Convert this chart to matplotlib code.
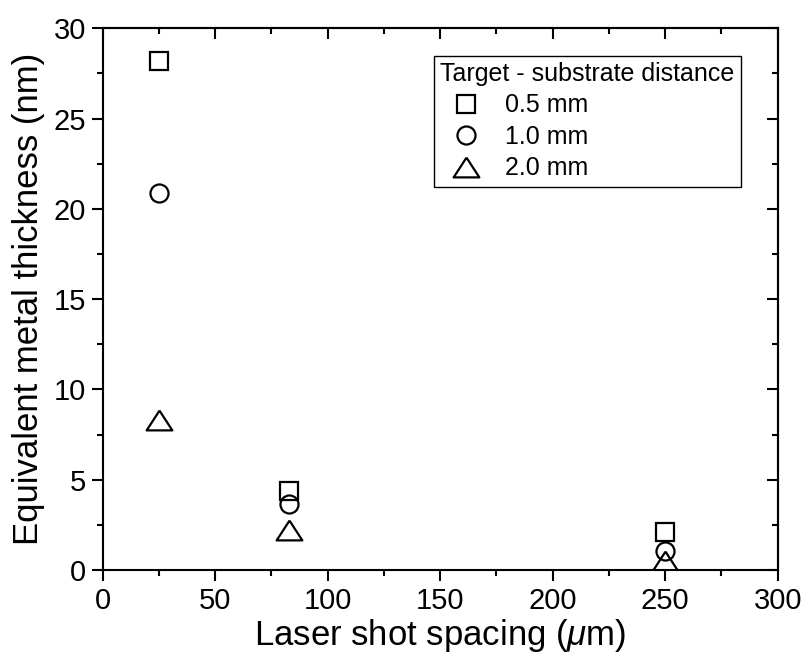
import matplotlib
matplotlib.use('Agg')
import matplotlib.pyplot as plt
from matplotlib.ticker import MultipleLocator

plt.rcParams['font.family'] = ['Liberation Sans', 'DejaVu Sans']
plt.rcParams['mathtext.fontset'] = 'custom'
plt.rcParams['mathtext.rm'] = 'Liberation Sans'
plt.rcParams['mathtext.it'] = 'Liberation Sans:italic'

# Data
spacing = [25, 83, 250]
thick_05 = [28.2, 4.35, 2.1]
thick_10 = [20.9, 3.65, 1.05]
thick_20 = [8.3, 2.2, 0.5]
series_labels = ['0.5 mm', '1.0 mm', '2.0 mm']

# wide, flat triangle like Origin's
tri = [(0, 0.77), (-1, -0.77), (1, -0.77), (0, 0.77)]

fig = plt.figure(figsize=(8.04, 6.59), dpi=100)
ax = fig.add_axes([0.1277, 0.1351, 0.8396, 0.8219])

mk = dict(linestyle='none', markerfacecolor='none', markeredgecolor='black',
          markeredgewidth=1.6)
ax.plot(spacing, thick_05, marker='s', markersize=12.5, label=series_labels[0], **mk)
ax.plot(spacing, thick_10, marker='o', markersize=13, label=series_labels[1], **mk)
ax.plot(spacing, thick_20, marker=tri, markersize=18.5, label=series_labels[2], **mk)

ax.set_xlim(0, 300)
ax.set_ylim(0, 30)
ax.xaxis.set_major_locator(MultipleLocator(50))
ax.xaxis.set_minor_locator(MultipleLocator(25))
ax.yaxis.set_major_locator(MultipleLocator(5))
ax.yaxis.set_minor_locator(MultipleLocator(2.5))

for s in ax.spines.values():
    s.set_linewidth(1.5)

ax.tick_params(which='both', direction='out', width=1.5, labelsize=21,
               top=False, right=False)
ax.tick_params(which='major', length=8, pad=4)
ax.tick_params(which='minor', length=4.5)

# mirrored inward ticks on top and right
ax_top = ax.secondary_xaxis('top')
ax_top.xaxis.set_major_locator(MultipleLocator(50))
ax_top.xaxis.set_minor_locator(MultipleLocator(25))
ax_top.tick_params(which='both', direction='in', width=1.5, labeltop=False)
ax_top.tick_params(which='major', length=8)
ax_top.tick_params(which='minor', length=4.5)
ax_right = ax.secondary_yaxis('right')
ax_right.yaxis.set_major_locator(MultipleLocator(5))
ax_right.yaxis.set_minor_locator(MultipleLocator(2.5))
ax_right.tick_params(which='both', direction='in', width=1.5, labelright=False)
ax_right.tick_params(which='major', length=8)
ax_right.tick_params(which='minor', length=4.5)
ax_top.spines['top'].set_linewidth(1.5)
ax_right.spines['right'].set_linewidth(1.5)

ax.set_xlabel(r'Laser shot spacing ($\mu$m)', fontsize=25, labelpad=2)
ax.set_ylabel('Equivalent metal thickness (nm)', fontsize=25, labelpad=6)

leg = ax.legend(title='Target - substrate distance', fontsize=18, title_fontsize=18,
                loc='upper left', bbox_to_anchor=(0.4908, 0.9494), borderaxespad=0,
                alignment='left', fancybox=False, edgecolor='black', framealpha=1,
                handlelength=2.1, handletextpad=0.5, labelspacing=0.3,
                borderpad=0.25, markerscale=1.0)
leg.get_frame().set_linewidth(1.0)

fig.savefig('out.png', dpi=100)
